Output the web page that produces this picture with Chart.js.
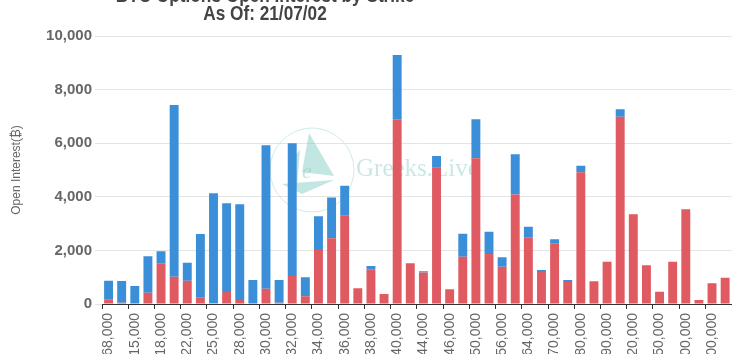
<!DOCTYPE html>
<html>
<head>
<meta charset="utf-8">
<script src="https://cdn.jsdelivr.net/npm/chart.js@4/dist/chart.umd.min.js"></script>
<style>
  html, body { margin: 0; padding: 0; background: #fff; overflow: hidden; }
  #wrap { position: absolute; left: 0; top: 0; width: 746px; height: 420px; }
</style>
</head>
<body>
<div id="wrap"><canvas id="c"></canvas></div>
<script>
const titleLines = ['BTC Options Open Interest by Strike', 'As Of: 21/07/02'];
const yAxisTitle = 'Open Interest(\u20BF)';
const strikes = ['68,000','10,000','15,000','16,000','18,000','20,000','22,000','24,000','25,000','26,000',
  '28,000','29,000','30,000','31,000','32,000','33,000','34,000','35,000','36,000','37,000',
  '38,000','39,000','40,000','42,000','44,000','45,000','46,000','48,000','50,000','52,000',
  '56,000','60,000','64,000','65,000','70,000','75,000','80,000','85,000','90,000','100,000',
  '120,000','140,000','150,000','160,000','200,000','250,000','300,000','400,000'];
const callsOI = [175,50,15,420,1520,1020,870,250,25,450,
  150,0,570,50,1045,290,2015,2450,3295,585,
  1295,375,6890,1520,1180,5087,547,1766,5435,1865,
  1393,4090,2490,1195,2265,820,4913,845,1580,6990,
  3345,1443,460,1580,3532,150,770,983];
const putsOI = [695,810,655,1360,445,6405,670,2360,4105,3306,
  3570,895,5350,845,4950,710,1255,1520,1120,0,
  125,0,2400,0,40,433,0,859,1455,835,
  347,1495,395,75,148,75,247,0,0,275,
  0,0,0,0,0,0,0,0];
const yTicks = [0, 2000, 4000, 6000, 8000, 10000];

const watermark = {
  id: 'watermark',
  beforeDatasetsDraw(chart) {
    const ctx = chart.ctx;
    ctx.save();
    const cx = 312, cy = 170;
    ctx.strokeStyle = 'rgba(140,205,195,0.4)';
    ctx.lineWidth = 1;
    ctx.beginPath(); ctx.arc(cx, cy, 42, 0, Math.PI * 2); ctx.stroke();
    ctx.fillStyle = 'rgba(120,200,190,0.45)';
    ctx.beginPath(); ctx.moveTo(309, 133); ctx.lineTo(334, 176); ctx.lineTo(302, 172); ctx.closePath(); ctx.fill();
    ctx.beginPath(); ctx.moveTo(290, 160); ctx.lineTo(300, 150); ctx.lineTo(297, 186); ctx.closePath(); ctx.fill();
    ctx.beginPath(); ctx.moveTo(282, 184); ctx.lineTo(334, 180); ctx.lineTo(302, 194); ctx.closePath(); ctx.fill();
    ctx.fillStyle = 'rgba(140,205,195,0.5)';
    ctx.font = 'italic 22px "Liberation Serif", serif';
    ctx.textAlign = 'center';
    ctx.textBaseline = 'alphabetic';
    ctx.fillText('e', 307, 178);
    ctx.font = '25px "Liberation Serif", serif';
    ctx.textAlign = 'left';
    ctx.fillStyle = 'rgba(150,210,200,0.5)';
    ctx.fillText('Greeks.Live', 356, 176);
    ctx.restore();
  }
};

const titlePlugin = {
  id: 'titleLines',
  afterDraw(chart) {
    const ctx = chart.ctx;
    ctx.save();
    ctx.fillStyle = '#444';
    ctx.font = 'bold 21px "Liberation Sans", sans-serif';
    ctx.textAlign = 'center';
    ctx.textBaseline = 'alphabetic';
    ctx.translate(265, 0);
    ctx.scale(0.82, 1);
    ctx.fillText(titleLines[0], 0, 1.5);
    ctx.fillText(titleLines[1], 0, 20);
    ctx.restore();
  }
};

new Chart(document.getElementById('c'), {
  type: 'bar',
  data: {
    labels: strikes,
    datasets: [
      { label: 'Calls', data: callsOI, backgroundColor: '#e05a61', barPercentage: 0.85, categoryPercentage: 0.8 },
      { label: 'Puts', data: putsOI, backgroundColor: '#3a8fd8', barPercentage: 0.85, categoryPercentage: 0.8 }
    ]
  },
  options: {
    responsive: true,
    maintainAspectRatio: false,
    animation: false,
    layout: { padding: { top: 36, right: 5, left: 0, bottom: 0 } },
    plugins: {
      legend: { display: false },
      title: { display: false },
      tooltip: { enabled: false }
    },
    scales: {
      x: {
        stacked: true,
        afterFit(s) { s.height = 116; },
        border: { display: true, color: '#333', width: 1 },
        grid: {
          drawOnChartArea: false,
          drawTicks: true,
          tickLength: 5,
          tickColor: (c) => (c.index % 2 === 0 ? '#333' : 'rgba(0,0,0,0)')
        },
        ticks: {
          autoSkip: false,
          maxRotation: 90,
          minRotation: 90,
          padding: 4,
          color: '#666',
          font: { family: '"Liberation Sans", sans-serif', size: 14 },
          callback(v, i) { return i % 2 === 0 ? strikes[i] : ''; }
        }
      },
      y: {
        stacked: true,
        min: 0,
        max: 10000,
        afterFit(s) { s.width = 102; },
        afterBuildTicks(s) { s.ticks = yTicks.map(v => ({ value: v })); },
        border: { display: false },
        grid: { color: '#e4e4e4', tickColor: '#e4e4e4', tickLength: 7, lineWidth: 1 },
        ticks: {
          color: '#666',
          padding: 3,
          font: { family: '"Liberation Sans", sans-serif', size: 15, weight: 'bold' },
          callback(v) { return v.toLocaleString('en-US'); }
        },
        title: {
          display: true,
          text: yAxisTitle,
          color: '#666',
          padding: { top: 9, bottom: 0 },
          font: { family: '"Liberation Sans", "DejaVu Sans", sans-serif', size: 12 }
        }
      }
    }
  },
  plugins: [watermark, titlePlugin]
});
</script>
</body>
</html>
